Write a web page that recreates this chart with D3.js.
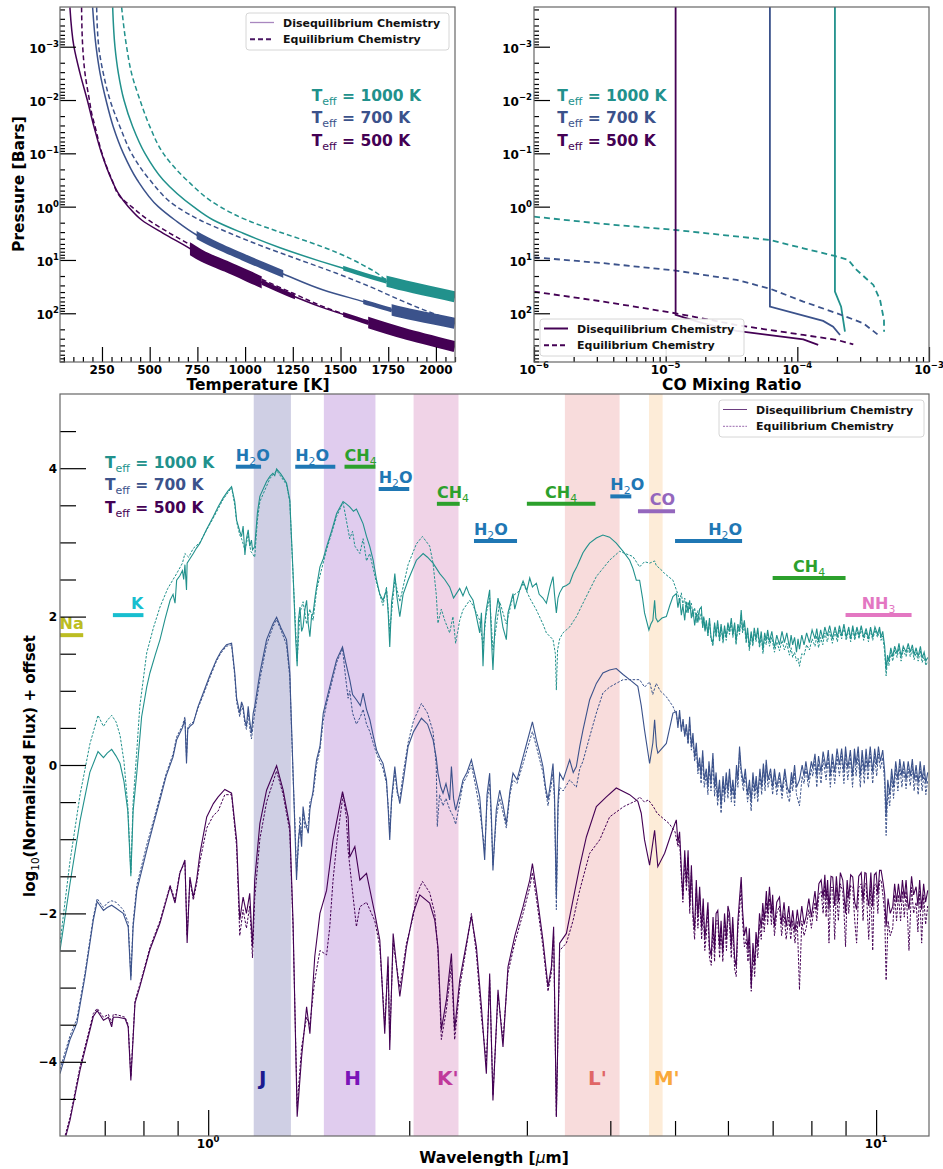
<!DOCTYPE html>
<html>
<head>
<meta charset="utf-8">
<script src="https://cdn.jsdelivr.net/npm/d3@7"></script>
<style>
  body { margin: 0; background: #fff; }
  text { font-family: "DejaVu Sans", sans-serif; font-weight: bold; }
</style>
</head>
<body>
<svg id="fig" width="943" height="1169"></svg>
<script>
// ---------- Pressure–temperature profiles: [T (K), P (bar)] ----------
const ptDiseq1000 = [[306,1.83e-4],[318,1e-3],[336,3.16e-3],[365,1e-2],[411,3.16e-2],[475,0.1],[571,0.316],[729,1],[833,1.78],[990,3.16],[1183,5.9],[1392,10.5],[1514,14.3],[1741,25.1],[2100,49]];
const ptEq1000    = [[353,1.83e-4],[379,1e-3],[405,3.16e-3],[449,1e-2],[501,3.16e-2],[571,0.1],[694,0.316],[868,1],[1008,1.78],[1200,3.16],[1300,4.17],[1410,5.75],[1480,7.24],[1549,9.33],[1620,12.6],[1689,17.4],[1741,23.4],[1800,28.2],[2100,49]];
const ptDiseq700  = [[201,1.83e-4],[219,1e-3],[240,3.16e-3],[271,1e-2],[309,3.16e-2],[362,0.1],[435,0.316],[545,1],[632,1.78],[746,3.40],[860,5.5],[973,8.3],[1090,12.6],[1200,18.3],[1410,36.5],[1619,60.4],[1768,86.6],[2100,154]];
const ptEq700     = [[222,1.83e-4],[233,1e-3],[257,3.16e-3],[292,1e-2],[344,3.16e-2],[405,0.1],[501,0.316],[641,1],[763,1.78],[921,3.16],[1095,5.62],[1287,10],[1479,17.8],[1654,31.6],[1811,56.2],[1950,90],[2100,140]];
const ptDiseq500  = [[82,1.83e-4],[103,1e-3],[135,3.16e-3],[173,1e-2],[208,3.16e-2],[248,0.1],[301,0.316],[336,0.562],[388,1],[458,1.78],[571,3.16],[694,5.62],[781,8.66],[903,13.3],[1060,23.7],[1217,42.2],[1392,75],[1602,133],[1829,237],[2100,422]];
const ptEq500     = [[143,1.83e-4],[149,1e-3],[161,3.16e-3],[184,1e-2],[196,1.78e-2],[214,3.16e-2],[250,0.1],[303,0.316],[345,0.65],[405,1],[493,1.78],[606,3.16],[729,5.62],[816,8.66],[938,13.3],[1095,23.7],[1252,42.2],[1410,75],[1610,133],[1829,237],[2100,422]];

// Temperature ranges of the highlighted (heavier) stretches of each profile: [Tlow, Thigh, level]
const zones1000 = [[1514,1741,1],[1741,2100,3]];
const zones700  = [[746,1200,2],[1619,1768,1],[1768,2100,3]];
const zones500  = [[711,1087,3],[1087,1261,1],[1514,1645,1],[1645,2100,3]];

// ---------- CO mixing ratio profiles: [mixing ratio, P (bar)] ----------
const coDiseq1000 = [[1.93e-4,1.5e-4],[1.93e-4,39.3],[2.15e-4,75],[2.30e-4,221]];
const coEq1000    = [[1e-6,1.54],[3.37e-6,2.11],[1.19e-5,2.74],[6.19e-5,4.22],[1.11e-4,6.04],[1.93e-4,8.41],[2.44e-4,10],[2.82e-4,15.4],[3.78e-4,29.4],[4.25e-4,56.2],[4.55e-4,133],[4.56e-4,221]];
const coDiseq700  = [[6.19e-5,1.5e-4],[6.19e-5,75],[1.57e-4,139],[1.87e-4,178],[2.11e-4,255]];
const coEq700     = [[1e-6,8.91],[3.37e-6,11.5],[1.19e-5,15.8],[3.46e-5,23.7],[6.19e-5,34.5],[1.11e-4,60.4],[2.0e-4,100],[3.17e-4,154],[4.12e-4,255]];
const coDiseq500  = [[1.19e-5,1.5e-4],[1.19e-5,107],[1.93e-5,154],[3.46e-5,214],[6.19e-5,256],[1.11e-4,309],[1.44e-4,392]];
const coEq500     = [[1e-6,39.3],[3.37e-6,60.4],[1.19e-5,100],[3.46e-5,166],[1.11e-4,255],[2.0e-4,316],[2.66e-4,383]];

// ---------- Spectra: [wavelength (µm), log10 normalized flux + offset] ----------
const specDiseq1000 = [[0.600,-2.50],[0.621,-1.60],[0.643,-0.75],[0.665,-0.10],[0.684,0.18],[0.697,0.10],[0.706,0.16],[0.717,0.21],[0.728,0.12],[0.738,0.02],[0.748,-0.22],[0.758,-0.62],[0.766,-1.50],[0.772,-0.62],[0.782,-0.10],[0.795,0.65],[0.809,1.05],[0.818,1.24],[0.833,1.48],[0.847,1.69],[0.862,1.97],[0.877,2.22],[0.886,2.30],[0.892,2.18],[0.897,2.49],[0.907,2.55],[0.915,2.62],[0.919,2.50],[0.923,2.70],[0.928,2.36],[0.930,2.72],[0.939,2.78],[0.950,2.85],[0.960,2.92],[0.972,2.99],[0.995,3.18],[1.018,3.35],[1.035,3.48],[1.053,3.60],[1.070,3.69],[1.084,3.75],[1.096,3.55],[1.103,3.30],[1.115,3.15],[1.122,3.08],[1.128,3.22],[1.135,2.83],[1.141,3.05],[1.148,3.17],[1.154,2.95],[1.161,3.03],[1.165,2.90],[1.174,2.94],[1.185,3.40],[1.195,3.62],[1.223,3.82],[1.237,3.89],[1.250,3.93],[1.258,3.90],[1.266,3.99],[1.285,3.92],[1.300,3.85],[1.310,3.80],[1.325,3.57],[1.340,2.58],[1.352,1.70],[1.359,1.33],[1.365,1.95],[1.372,2.13],[1.380,1.80],[1.387,1.86],[1.396,2.10],[1.404,2.22],[1.412,1.90],[1.420,1.73],[1.428,2.00],[1.436,2.05],[1.445,2.25],[1.453,2.40],[1.470,2.67],[1.487,2.78],[1.504,2.94],[1.530,3.15],[1.557,3.39],[1.592,3.55],[1.610,3.52],[1.629,3.48],[1.650,3.42],[1.667,3.45],[1.687,3.35],[1.706,3.25],[1.726,3.08],[1.745,2.95],[1.766,2.76],[1.787,2.49],[1.807,2.30],[1.827,2.22],[1.849,2.36],[1.860,2.05],[1.870,1.59],[1.882,2.20],[1.892,2.35],[1.903,2.58],[1.918,2.25],[1.936,2.00],[1.958,2.30],[1.992,2.49],[2.050,2.76],[2.098,2.85],[2.130,2.80],[2.171,2.72],[2.222,2.58],[2.260,2.50],[2.299,2.40],[2.330,2.25],[2.353,2.31],[2.380,2.38],[2.407,2.28],[2.436,2.40],[2.460,2.30],[2.492,2.22],[2.521,2.00],[2.550,1.78],[2.565,2.05],[2.579,1.33],[2.594,1.90],[2.609,2.10],[2.639,2.36],[2.655,1.70],[2.669,1.28],[2.690,1.95],[2.716,2.25],[2.732,2.13],[2.763,1.85],[2.795,1.69],[2.811,2.05],[2.860,2.31],[2.877,2.10],[2.927,2.36],[2.961,2.48],[3.000,2.35],[3.030,2.52],[3.058,2.40],[3.100,2.45],[3.130,2.30],[3.171,2.25],[3.209,2.18],[3.250,2.40],[3.283,2.54],[3.300,2.30],[3.321,2.05],[3.340,2.25],[3.359,2.32],[3.397,2.40],[3.437,2.42],[3.477,2.45],[3.520,2.58],[3.559,2.66],[3.599,2.76],[3.640,2.86],[3.683,2.93],[3.725,2.99],[3.812,3.06],[3.899,3.10],[3.990,3.07],[4.083,2.99],[4.180,2.88],[4.276,2.76],[4.324,2.65],[4.375,2.49],[4.425,2.49],[4.470,2.25],[4.501,2.05],[4.569,1.82],[4.600,1.90],[4.632,1.95],[4.660,2.22],[4.680,1.98],[4.712,1.93],[4.780,1.98],[4.852,2.00],[4.910,2.15],[4.964,2.27],[5.022,2.31],[5.05,2.12],[5.079,2.25],[5.11,2.02],[5.137,2.15],[5.17,1.95],[5.198,2.20],[5.23,2.05],[5.258,2.22],[5.29,1.98],[5.318,2.10],[5.35,1.88],[5.380,2.05],[5.41,1.92],[5.442,2.10],[5.474,2.13],[5.50,1.85],[5.52,2.00],[5.545,1.80],[5.569,1.95],[5.60,1.75],[5.63,1.98],[5.66,1.72],[5.697,1.64],[5.73,1.92],[5.76,1.75],[5.79,1.95],[5.829,1.70],[5.86,1.90],[5.90,1.68],[5.93,1.88],[5.965,1.72],[6.00,1.92],[6.033,1.80],[6.07,1.98],[6.103,1.75],[6.14,1.92],[6.17,1.66],[6.21,1.90],[6.245,1.80],[6.281,2.09],[6.31,1.82],[6.35,1.95],[6.39,1.68],[6.42,1.85],[6.46,1.58],[6.50,1.80],[6.538,1.64],[6.57,1.85],[6.61,1.70],[6.65,1.85],[6.69,1.62],[6.73,1.80],[6.77,1.55],[6.81,1.78],[6.846,1.68],[6.88,1.82],[6.924,1.66],[6.98,1.80],[7.044,1.58],[7.10,1.75],[7.167,1.62],[7.23,1.80],[7.29,1.65],[7.35,1.78],[7.417,1.58],[7.46,1.75],[7.50,1.62],[7.55,1.72],[7.60,1.52],[7.64,1.70],[7.678,1.56],[7.74,1.75],[7.80,1.62],[7.87,1.78],[7.946,1.65],[8.02,1.82],[8.10,1.70],[8.15,1.84],[8.20,1.66],[8.26,1.82],[8.32,1.70],[8.38,1.86],[8.45,1.74],[8.52,1.88],[8.60,1.70],[8.68,1.86],[8.75,1.72],[8.812,1.88],[8.88,1.74],[8.95,1.90],[9.02,1.72],[9.10,1.86],[9.16,1.70],[9.226,1.88],[9.29,1.72],[9.36,1.86],[9.43,1.74],[9.50,1.88],[9.58,1.72],[9.661,1.84],[9.74,1.70],[9.81,1.86],[9.883,1.72],[9.96,1.86],[10.05,1.76],[10.12,1.86],[10.17,1.72],[10.231,1.80],[10.30,1.60],[10.351,1.28],[10.40,1.48],[10.45,1.40],[10.52,1.58],[10.589,1.46],[10.66,1.60],[10.75,1.50],[10.82,1.64],[10.90,1.46],[10.98,1.60],[11.088,1.52],[11.17,1.64],[11.25,1.52],[11.33,1.62],[11.40,1.48],[11.478,1.58],[11.56,1.46],[11.65,1.60],[11.72,1.44],[11.80,1.52],[11.87,1.40],[11.947,1.45]];

const specEq1000 = [[0.600,-2.40],[0.621,-1.30],[0.643,-0.40],[0.665,0.28],[0.684,0.67],[0.697,0.52],[0.706,0.60],[0.717,0.67],[0.728,0.58],[0.738,0.40],[0.748,0.05],[0.758,-0.55],[0.766,-1.45],[0.772,-0.50],[0.782,0.20],[0.790,0.79],[0.809,1.51],[0.828,1.85],[0.847,2.13],[0.870,2.38],[0.897,2.58],[0.915,2.72],[0.923,2.85],[0.935,2.80],[0.950,2.92],[0.972,3.00],[0.995,3.17],[1.018,3.33],[1.053,3.58],[1.084,3.74],[1.096,3.50],[1.103,3.28],[1.115,3.10],[1.122,3.05],[1.135,2.90],[1.148,3.10],[1.158,2.88],[1.165,2.85],[1.174,2.80],[1.185,3.30],[1.195,3.55],[1.237,3.86],[1.266,3.97],[1.310,3.78],[1.325,3.55],[1.340,2.55],[1.359,1.40],[1.372,2.05],[1.387,2.20],[1.404,1.90],[1.420,2.10],[1.436,1.95],[1.453,2.35],[1.470,2.55],[1.504,2.90],[1.557,3.35],[1.592,3.54],[1.610,3.30],[1.629,3.05],[1.645,3.15],[1.658,2.95],[1.687,2.85],[1.706,3.05],[1.726,2.75],[1.745,2.85],[1.766,2.65],[1.787,2.45],[1.827,2.15],[1.849,2.40],[1.870,1.80],[1.903,2.50],[1.936,2.20],[1.992,2.70],[2.050,2.98],[2.093,3.08],[2.146,2.95],[2.171,2.72],[2.195,2.30],[2.208,1.91],[2.234,2.10],[2.260,1.95],[2.299,1.78],[2.325,2.00],[2.347,1.64],[2.380,1.95],[2.407,2.09],[2.463,2.22],[2.492,2.15],[2.550,1.95],[2.579,1.60],[2.609,2.05],[2.639,2.25],[2.669,1.55],[2.732,2.20],[2.795,1.90],[2.860,2.28],[2.927,2.35],[2.961,2.45],[3.030,2.25],[3.100,2.09],[3.171,1.90],[3.209,1.78],[3.283,1.69],[3.310,1.50],[3.321,1.01],[3.335,1.55],[3.359,1.70],[3.397,1.78],[3.477,1.86],[3.559,2.00],[3.640,2.18],[3.725,2.36],[3.812,2.54],[3.900,2.65],[3.990,2.76],[4.130,2.88],[4.324,2.81],[4.425,2.67],[4.501,2.74],[4.580,2.72],[4.660,2.75],[4.686,2.69],[4.780,2.62],[4.824,2.58],[4.964,2.49],[5.05,2.30],[5.079,2.20],[5.11,2.32],[5.137,2.15],[5.17,2.25],[5.20,2.05],[5.23,2.20],[5.258,2.10],[5.29,2.18],[5.318,2.00],[5.35,2.12],[5.38,1.92],[5.41,2.08],[5.442,1.95],[5.474,2.05],[5.50,1.85],[5.52,1.98],[5.545,1.82],[5.569,1.92],[5.60,1.74],[5.63,1.95],[5.66,1.70],[5.697,1.60],[5.73,1.88],[5.76,1.72],[5.79,1.90],[5.829,1.66],[5.86,1.86],[5.90,1.64],[5.93,1.84],[5.965,1.68],[6.00,1.88],[6.033,1.76],[6.07,1.92],[6.103,1.72],[6.14,1.88],[6.17,1.62],[6.21,1.86],[6.245,1.76],[6.281,2.02],[6.31,1.78],[6.35,1.90],[6.39,1.64],[6.42,1.80],[6.46,1.54],[6.50,1.76],[6.538,1.60],[6.57,1.80],[6.61,1.66],[6.65,1.80],[6.69,1.58],[6.73,1.75],[6.77,1.50],[6.81,1.72],[6.846,1.62],[6.88,1.76],[6.924,1.60],[6.98,1.72],[7.044,1.52],[7.10,1.66],[7.167,1.54],[7.23,1.68],[7.29,1.55],[7.35,1.64],[7.417,1.48],[7.46,1.58],[7.50,1.45],[7.55,1.52],[7.60,1.40],[7.64,1.44],[7.678,1.33],[7.74,1.50],[7.80,1.48],[7.87,1.62],[7.946,1.55],[8.02,1.70],[8.10,1.60],[8.15,1.74],[8.20,1.58],[8.26,1.72],[8.32,1.62],[8.38,1.78],[8.45,1.66],[8.52,1.80],[8.60,1.64],[8.68,1.80],[8.75,1.66],[8.812,1.82],[8.88,1.70],[8.95,1.86],[9.02,1.68],[9.10,1.82],[9.16,1.66],[9.226,1.84],[9.29,1.68],[9.36,1.82],[9.43,1.70],[9.50,1.84],[9.58,1.68],[9.661,1.80],[9.74,1.66],[9.81,1.82],[9.883,1.68],[9.96,1.82],[10.05,1.72],[10.12,1.82],[10.17,1.68],[10.231,1.74],[10.30,1.52],[10.351,1.20],[10.40,1.42],[10.45,1.34],[10.52,1.52],[10.589,1.40],[10.66,1.55],[10.75,1.45],[10.82,1.58],[10.90,1.40],[10.98,1.55],[11.088,1.46],[11.17,1.58],[11.25,1.46],[11.33,1.56],[11.40,1.42],[11.478,1.52],[11.56,1.40],[11.65,1.54],[11.72,1.38],[11.80,1.46],[11.87,1.34],[11.947,1.40]];

const specDiseq700 = [[0.600,-4.16],[0.621,-3.70],[0.636,-3.48],[0.654,-2.85],[0.673,-2.09],[0.682,-1.84],[0.697,-1.96],[0.706,-1.92],[0.717,-1.89],[0.728,-1.93],[0.746,-2.00],[0.759,-2.18],[0.766,-2.90],[0.772,-2.18],[0.782,-1.69],[0.809,-1.15],[0.828,-0.80],[0.847,-0.47],[0.865,-0.15],[0.886,0.11],[0.897,0.34],[0.915,0.50],[0.923,0.61],[0.928,0.02],[0.932,0.48],[0.939,0.52],[0.950,0.56],[0.965,0.78],[0.983,0.97],[1.005,1.20],[1.029,1.42],[1.045,1.53],[1.065,1.62],[1.084,1.64],[1.096,1.24],[1.103,0.90],[1.115,0.70],[1.122,0.85],[1.128,0.79],[1.135,0.60],[1.141,0.52],[1.148,0.79],[1.154,0.60],[1.161,0.43],[1.168,0.70],[1.174,0.79],[1.195,1.24],[1.223,1.69],[1.250,1.90],[1.266,1.99],[1.285,1.85],[1.310,1.69],[1.325,1.24],[1.340,-0.11],[1.350,-1.00],[1.356,-1.55],[1.365,-1.00],[1.372,-0.83],[1.380,-1.10],[1.387,-0.56],[1.396,-0.75],[1.412,-0.92],[1.420,-0.60],[1.436,-0.34],[1.445,-0.10],[1.453,0.07],[1.470,0.25],[1.487,0.70],[1.504,0.88],[1.530,1.15],[1.557,1.42],[1.589,1.59],[1.605,1.40],[1.629,1.15],[1.645,0.95],[1.667,0.88],[1.690,0.80],[1.706,0.97],[1.726,0.75],[1.746,0.61],[1.766,0.40],[1.787,0.20],[1.807,0.10],[1.827,0.02],[1.849,-0.20],[1.860,-0.60],[1.870,-1.01],[1.882,-0.45],[1.903,-0.02],[1.920,-0.35],[1.936,-0.52],[1.960,-0.20],[1.992,0.25],[2.030,0.45],[2.086,0.63],[2.130,0.55],[2.171,0.34],[2.195,0.10],[2.208,-0.11],[2.230,-0.30],[2.247,-0.38],[2.270,-0.25],[2.299,-0.47],[2.313,-0.02],[2.330,-0.45],[2.347,-0.61],[2.380,-0.40],[2.407,-0.20],[2.440,-0.10],[2.478,0.07],[2.510,-0.15],[2.550,-0.43],[2.594,-1.28],[2.615,-0.40],[2.639,-0.11],[2.655,-0.70],[2.669,-1.42],[2.700,-0.60],[2.732,-0.34],[2.765,-0.55],[2.795,-0.79],[2.830,-0.35],[2.860,-0.11],[2.900,-0.20],[2.961,0.11],[3.000,0.30],[3.058,0.58],[3.100,0.34],[3.140,0.15],[3.171,-0.02],[3.200,-0.30],[3.227,-0.47],[3.260,-0.20],[3.283,0.02],[3.300,-0.40],[3.321,-1.78],[3.340,-0.50],[3.359,-0.11],[3.400,-0.20],[3.477,0.07],[3.520,-0.10],[3.558,-0.02],[3.600,0.25],[3.640,0.47],[3.725,0.88],[3.812,1.10],[3.899,1.24],[3.990,1.28],[4.083,1.30],[4.180,1.22],[4.276,1.15],[4.398,1.06],[4.450,0.80],[4.501,0.47],[4.580,0.02],[4.632,0.30],[4.660,0.61],[4.690,0.25],[4.712,0.16],[4.852,0.29],[4.964,0.70],[5.022,0.72],[5.05,0.50],[5.079,0.74],[5.11,0.45],[5.14,0.62],[5.17,0.38],[5.198,0.55],[5.23,0.30],[5.258,0.65],[5.29,0.25],[5.318,0.43],[5.35,0.10],[5.38,0.30],[5.41,-0.05],[5.442,0.10],[5.47,-0.15],[5.50,0.20],[5.53,-0.20],[5.569,-0.05],[5.60,-0.30],[5.62,0.05],[5.66,-0.25],[5.697,0.16],[5.73,-0.30],[5.76,-0.10],[5.79,-0.45],[5.829,-0.20],[5.86,-0.55],[5.90,-0.15],[5.93,-0.40],[5.965,-0.10],[6.00,-0.35],[6.033,-0.05],[6.07,-0.40],[6.103,-0.20],[6.14,-0.45],[6.18,0.00],[6.21,-0.20],[6.245,0.25],[6.28,-0.05],[6.33,-0.25],[6.37,-0.05],[6.42,-0.40],[6.463,-0.20],[6.50,-0.50],[6.54,-0.10],[6.58,-0.35],[6.614,-0.15],[6.65,-0.40],[6.70,-0.05],[6.74,-0.30],[6.78,0.02],[6.82,-0.25],[6.846,0.07],[6.89,-0.20],[6.95,-0.05],[7.00,-0.30],[7.044,-0.05],[7.10,-0.30],[7.167,-0.10],[7.23,-0.35],[7.30,-0.05],[7.36,-0.30],[7.417,-0.38],[7.47,-0.10],[7.50,-0.25],[7.55,0.00],[7.60,-0.30],[7.678,-0.20],[7.75,0.00],[7.80,-0.15],[7.85,0.05],[7.92,-0.20],[8.00,0.05],[8.038,-0.05],[8.10,0.15],[8.15,-0.15],[8.20,0.12],[8.27,-0.10],[8.33,0.18],[8.416,-0.05],[8.48,0.20],[8.54,-0.15],[8.60,0.15],[8.67,-0.10],[8.74,0.22],[8.812,0.00],[8.88,0.22],[8.95,-0.10],[9.00,0.25],[9.07,-0.05],[9.15,0.20],[9.22,-0.15],[9.28,0.22],[9.333,0.00],[9.40,0.25],[9.47,-0.15],[9.53,0.20],[9.60,-0.10],[9.66,0.22],[9.72,-0.05],[9.80,0.25],[9.883,-0.10],[9.95,0.22],[10.02,0.00],[10.08,0.25],[10.15,0.05],[10.231,0.20],[10.30,-0.10],[10.351,-0.70],[10.41,-0.20],[10.48,-0.40],[10.55,-0.05],[10.62,-0.30],[10.70,0.05],[10.78,-0.20],[10.85,0.08],[10.93,-0.15],[11.00,0.05],[11.088,-0.20],[11.17,0.05],[11.25,-0.15],[11.33,0.08],[11.40,-0.20],[11.478,0.00],[11.56,-0.25],[11.64,0.05],[11.72,-0.20],[11.80,0.00],[11.87,-0.25],[11.947,-0.10]];

const specEq700 = [[0.600,-4.10],[0.621,-3.65],[0.636,-3.42],[0.654,-2.80],[0.673,-2.05],[0.682,-1.80],[0.697,-1.92],[0.706,-1.86],[0.717,-1.83],[0.728,-1.85],[0.746,-1.95],[0.759,-2.12],[0.766,-2.85],[0.772,-2.12],[0.782,-1.62],[0.809,-1.08],[0.828,-0.75],[0.847,-0.42],[0.865,-0.12],[0.886,0.15],[0.897,0.38],[0.915,0.53],[0.923,0.65],[0.928,0.10],[0.932,0.50],[0.939,0.55],[0.950,0.58],[0.965,0.76],[0.983,0.94],[1.005,1.17],[1.029,1.40],[1.045,1.51],[1.065,1.60],[1.084,1.62],[1.096,1.20],[1.103,0.85],[1.115,0.65],[1.122,0.80],[1.128,0.74],[1.135,0.55],[1.141,0.48],[1.148,0.70],[1.154,0.50],[1.161,0.35],[1.168,0.55],[1.174,0.70],[1.195,1.15],[1.223,1.62],[1.250,1.86],[1.266,1.96],[1.285,1.82],[1.310,1.62],[1.325,1.18],[1.340,-0.15],[1.350,-0.90],[1.356,-1.45],[1.365,-1.10],[1.372,-0.70],[1.380,-0.95],[1.387,-0.65],[1.396,-0.85],[1.412,-0.80],[1.420,-0.50],[1.436,-0.40],[1.445,-0.20],[1.453,0.00],[1.470,0.20],[1.487,0.60],[1.504,0.82],[1.530,1.10],[1.557,1.38],[1.589,1.57],[1.605,1.20],[1.620,0.90],[1.629,1.00],[1.645,0.70],[1.667,0.55],[1.690,0.65],[1.706,0.75],[1.726,0.55],[1.746,0.45],[1.766,0.30],[1.787,0.15],[1.807,0.05],[1.827,-0.05],[1.849,-0.25],[1.860,-0.55],[1.870,-0.90],[1.882,-0.50],[1.903,-0.10],[1.920,-0.40],[1.936,-0.45],[1.960,-0.10],[1.992,0.30],[2.030,0.60],[2.086,0.83],[2.130,0.70],[2.171,0.45],[2.195,0.00],[2.203,-0.83],[2.220,-0.40],[2.247,-0.55],[2.270,-0.45],[2.299,-0.60],[2.330,-0.70],[2.347,-0.80],[2.380,-0.50],[2.407,-0.25],[2.440,-0.15],[2.478,0.00],[2.510,-0.25],[2.550,-0.60],[2.594,-1.15],[2.615,-0.50],[2.639,-0.25],[2.655,-0.80],[2.669,-1.35],[2.700,-0.70],[2.732,-0.45],[2.765,-0.65],[2.795,-0.85],[2.830,-0.40],[2.860,-0.20],[2.900,-0.25],[2.961,0.02],[3.000,0.20],[3.058,0.45],[3.100,0.25],[3.140,0.05],[3.171,-0.10],[3.200,-0.35],[3.227,-0.55],[3.260,-0.30],[3.283,-0.10],[3.300,-0.50],[3.321,-1.95],[3.340,-0.60],[3.359,-0.30],[3.400,-0.35],[3.477,-0.20],[3.558,-0.30],[3.600,-0.05],[3.640,0.05],[3.725,0.38],[3.812,0.70],[3.899,0.97],[3.990,1.05],[4.083,1.10],[4.180,1.15],[4.276,1.15],[4.425,1.15],[4.501,1.05],[4.580,1.12],[4.630,0.95],[4.686,1.10],[4.750,1.00],[4.852,0.92],[4.964,0.79],[5.022,0.68],[5.05,0.55],[5.079,0.66],[5.11,0.50],[5.14,0.58],[5.17,0.40],[5.198,0.50],[5.23,0.28],[5.258,0.55],[5.29,0.20],[5.318,0.35],[5.35,0.05],[5.38,0.22],[5.41,-0.12],[5.442,0.02],[5.47,-0.25],[5.50,0.12],[5.53,-0.30],[5.569,-0.12],[5.60,-0.40],[5.62,-0.02],[5.66,-0.35],[5.697,0.08],[5.73,-0.42],[5.76,-0.18],[5.79,-0.55],[5.829,-0.28],[5.86,-0.65],[5.90,-0.22],[5.93,-0.50],[5.965,-0.18],[6.00,-0.45],[6.033,-0.12],[6.07,-0.50],[6.103,-0.28],[6.14,-0.55],[6.18,-0.08],[6.21,-0.30],[6.245,0.18],[6.28,-0.12],[6.33,-0.35],[6.37,-0.12],[6.42,-0.50],[6.463,-0.30],[6.50,-0.62],[6.54,-0.18],[6.58,-0.45],[6.614,-0.22],[6.65,-0.50],[6.70,-0.12],[6.74,-0.40],[6.78,-0.05],[6.82,-0.35],[6.846,0.00],[6.89,-0.30],[6.95,-0.12],[7.00,-0.40],[7.044,-0.12],[7.10,-0.40],[7.167,-0.18],[7.23,-0.45],[7.30,-0.12],[7.36,-0.40],[7.417,-0.50],[7.47,-0.20],[7.50,-0.35],[7.55,-0.10],[7.60,-0.40],[7.678,-0.55],[7.75,-0.15],[7.80,-0.25],[7.85,-0.05],[7.92,-0.30],[8.00,-0.05],[8.038,-0.15],[8.10,0.05],[8.15,-0.30],[8.20,0.02],[8.27,-0.25],[8.33,0.08],[8.416,-0.20],[8.48,0.10],[8.54,-0.30],[8.60,0.05],[8.67,-0.25],[8.74,0.12],[8.812,-0.15],[8.88,0.12],[8.95,-0.25],[9.00,0.15],[9.07,-0.20],[9.15,0.10],[9.22,-0.30],[9.28,0.12],[9.333,-0.15],[9.40,0.15],[9.47,-0.30],[9.53,0.10],[9.60,-0.25],[9.66,0.12],[9.72,-0.20],[9.80,0.15],[9.883,-0.25],[9.95,0.12],[10.02,-0.15],[10.08,0.15],[10.15,-0.05],[10.231,0.10],[10.30,-0.25],[10.351,-0.95],[10.41,-0.35],[10.48,-0.55],[10.55,-0.15],[10.62,-0.45],[10.70,-0.05],[10.78,-0.35],[10.85,-0.02],[10.93,-0.30],[11.00,-0.05],[11.088,-0.32],[11.17,-0.05],[11.25,-0.28],[11.33,-0.02],[11.40,-0.35],[11.478,-0.10],[11.56,-0.40],[11.64,-0.05],[11.72,-0.35],[11.80,-0.10],[11.87,-0.40],[11.947,-0.20]];

const specDiseq500 = [[0.600,-5.30],[0.621,-4.79],[0.643,-4.11],[0.673,-3.39],[0.682,-3.31],[0.697,-3.44],[0.709,-3.40],[0.717,-3.53],[0.721,-3.40],[0.733,-3.40],[0.751,-3.42],[0.759,-3.53],[0.766,-4.25],[0.777,-3.21],[0.790,-2.99],[0.818,-2.49],[0.847,-2.13],[0.877,-1.64],[0.892,-1.86],[0.907,-1.46],[0.923,-1.28],[0.930,-2.40],[0.939,-1.51],[0.950,-1.78],[0.961,-1.55],[0.972,-1.19],[0.995,-0.70],[1.018,-0.52],[1.035,-0.43],[1.059,-0.33],[1.084,-0.38],[1.103,-1.01],[1.115,-2.09],[1.128,-1.78],[1.141,-2.00],[1.154,-1.73],[1.165,-2.45],[1.174,-1.55],[1.195,-0.79],[1.223,-0.34],[1.266,-0.01],[1.295,-0.34],[1.325,-0.83],[1.340,-2.13],[1.359,-4.74],[1.380,-3.93],[1.404,-3.26],[1.420,-3.62],[1.444,-2.58],[1.470,-2.00],[1.504,-1.69],[1.538,-1.01],[1.589,-0.36],[1.620,-0.70],[1.629,-1.24],[1.658,-1.10],[1.687,-1.55],[1.726,-1.46],[1.776,-2.00],[1.807,-2.36],[1.838,-3.62],[1.859,-2.58],[1.870,-3.84],[1.892,-2.27],[1.936,-3.12],[1.981,-2.45],[2.027,-2.00],[2.074,-1.75],[2.146,-1.86],[2.184,-2.09],[2.208,-2.45],[2.234,-3.57],[2.273,-3.17],[2.313,-2.54],[2.339,-3.57],[2.380,-2.90],[2.436,-2.40],[2.478,-2.04],[2.521,-2.45],[2.565,-3.26],[2.609,-4.16],[2.639,-2.81],[2.669,-4.52],[2.716,-3.03],[2.763,-3.80],[2.811,-2.72],[2.877,-2.31],[2.961,-1.91],[3.030,-1.55],[3.058,-1.33],[3.100,-1.69],[3.171,-2.36],[3.227,-2.99],[3.265,-2.72],[3.290,-2.18],[3.321,-4.74],[3.359,-2.40],[3.438,-2.27],[3.517,-1.82],[3.599,-1.37],[3.683,-0.97],[3.812,-0.56],[3.946,-0.43],[4.083,-0.31],[4.276,-0.40],[4.398,-0.49],[4.450,-0.65],[4.501,-1.01],[4.580,-1.35],[4.660,-0.88],[4.712,-1.37],[4.824,-1.19],[4.937,-0.92],[5.022,-0.74],[5.05,-1.05],[5.079,-0.90],[5.11,-1.40],[5.137,-1.78],[5.17,-1.15],[5.20,-1.60],[5.23,-1.15],[5.26,-1.90],[5.29,-1.35],[5.32,-2.00],[5.349,-2.22],[5.38,-1.55],[5.41,-2.05],[5.443,-1.64],[5.48,-2.20],[5.51,-1.80],[5.54,-2.35],[5.569,-2.13],[5.60,-1.85],[5.63,-2.45],[5.665,-2.58],[5.70,-2.05],[5.73,-2.50],[5.76,-2.00],[5.794,-1.96],[5.83,-2.45],[5.86,-2.10],[5.895,-2.54],[5.93,-2.00],[5.97,-2.35],[6.00,-1.90],[6.033,-2.00],[6.07,-2.45],[6.10,-2.05],[6.14,-2.60],[6.173,-2.72],[6.21,-2.10],[6.245,-1.80],[6.281,-1.51],[6.31,-1.95],[6.35,-2.30],[6.39,-2.18],[6.43,-2.50],[6.46,-2.20],[6.502,-2.99],[6.54,-2.40],[6.58,-2.70],[6.61,-2.25],[6.65,-2.45],[6.69,-2.00],[6.73,-2.20],[6.766,-1.86],[6.80,-2.10],[6.85,-1.70],[6.88,-2.00],[6.924,-1.64],[6.97,-2.00],[7.00,-1.75],[7.044,-2.18],[7.10,-1.85],[7.167,-1.78],[7.22,-2.15],[7.28,-1.85],[7.334,-2.18],[7.40,-1.90],[7.45,-2.20],[7.501,-1.96],[7.56,-2.25],[7.62,-1.95],[7.678,-2.18],[7.74,-1.90],[7.80,-2.15],[7.857,-2.04],[7.93,-1.80],[8.00,-2.05],[8.038,-1.91],[8.10,-1.70],[8.150,-1.95],[8.21,-1.60],[8.274,-1.55],[8.33,-1.80],[8.38,-1.48],[8.416,-1.82],[8.46,-1.55],[8.500,-1.95],[8.56,-1.50],[8.610,-1.51],[8.67,-1.90],[8.72,-1.50],[8.78,-1.85],[8.84,-1.45],[8.913,-1.55],[8.96,-1.80],[9.000,-2.00],[9.05,-1.55],[9.10,-1.80],[9.16,-1.48],[9.226,-1.51],[9.29,-1.85],[9.350,-1.95],[9.42,-1.50],[9.500,-1.45],[9.56,-1.85],[9.62,-1.45],[9.661,-1.46],[9.71,-1.80],[9.750,-1.90],[9.82,-1.45],[9.883,-1.91],[9.94,-1.48],[10.000,-1.45],[10.06,-1.75],[10.12,-1.42],[10.174,-1.42],[10.25,-1.60],[10.30,-1.75],[10.351,-2.18],[10.42,-1.80],[10.50,-2.00],[10.589,-1.91],[10.66,-1.60],[10.73,-1.85],[10.800,-1.60],[10.88,-1.85],[10.95,-1.55],[11.02,-1.80],[11.088,-1.55],[11.15,-1.85],[11.200,-1.95],[11.30,-1.50],[11.38,-1.75],[11.478,-1.64],[11.55,-1.90],[11.62,-1.55],[11.700,-1.95],[11.78,-1.60],[11.86,-1.85],[11.947,-1.69]];

const specEq500 = [[0.600,-5.25],[0.621,-4.75],[0.643,-4.06],[0.673,-3.35],[0.682,-3.28],[0.697,-3.40],[0.709,-3.36],[0.717,-3.48],[0.721,-3.36],[0.733,-3.37],[0.751,-3.40],[0.759,-3.50],[0.766,-4.20],[0.777,-3.18],[0.790,-2.96],[0.818,-2.46],[0.847,-2.10],[0.877,-1.62],[0.892,-1.82],[0.907,-1.44],[0.923,-1.32],[0.930,-2.30],[0.939,-1.55],[0.950,-1.82],[0.961,-1.60],[0.972,-1.30],[0.995,-0.85],[1.018,-0.68],[1.035,-0.62],[1.059,-0.40],[1.084,-0.40],[1.103,-1.10],[1.115,-2.30],[1.128,-1.95],[1.141,-2.20],[1.154,-1.90],[1.165,-2.60],[1.174,-1.80],[1.195,-1.00],[1.223,-0.50],[1.266,-0.08],[1.295,-0.40],[1.325,-0.90],[1.340,-2.20],[1.359,-4.60],[1.380,-3.80],[1.404,-3.40],[1.420,-3.50],[1.444,-2.90],[1.470,-2.50],[1.504,-2.56],[1.520,-2.20],[1.538,-1.55],[1.560,-1.00],[1.592,-0.40],[1.610,-0.70],[1.620,-1.15],[1.640,-1.60],[1.667,-2.18],[1.687,-1.91],[1.726,-1.85],[1.776,-2.10],[1.807,-2.45],[1.838,-3.50],[1.859,-2.70],[1.870,-3.70],[1.892,-2.40],[1.936,-3.00],[1.981,-2.40],[2.027,-2.05],[2.050,-1.75],[2.093,-1.57],[2.146,-1.72],[2.184,-2.00],[2.208,-2.50],[2.234,-3.70],[2.273,-3.30],[2.313,-2.70],[2.339,-3.70],[2.380,-3.00],[2.436,-2.45],[2.478,-2.00],[2.521,-2.55],[2.565,-3.40],[2.609,-4.00],[2.639,-2.90],[2.669,-4.45],[2.716,-3.10],[2.763,-3.70],[2.811,-2.80],[2.877,-2.40],[2.961,-2.00],[3.030,-1.65],[3.058,-1.45],[3.100,-1.80],[3.171,-2.45],[3.227,-3.05],[3.265,-2.80],[3.290,-2.30],[3.321,-4.74],[3.359,-2.50],[3.438,-2.40],[3.517,-2.10],[3.599,-1.69],[3.725,-1.19],[3.856,-1.01],[3.990,-0.70],[4.190,-0.56],[4.375,-0.48],[4.425,-0.43],[4.500,-0.50],[4.560,-0.47],[4.640,-0.56],[4.700,-0.65],[4.900,-0.79],[5.00,-0.90],[5.05,-1.10],[5.079,-1.01],[5.11,-1.50],[5.137,-1.85],[5.17,-1.25],[5.20,-1.70],[5.23,-1.25],[5.26,-2.00],[5.29,-1.45],[5.32,-2.10],[5.349,-2.35],[5.38,-1.65],[5.41,-2.20],[5.443,-1.75],[5.48,-2.35],[5.51,-1.90],[5.54,-2.50],[5.569,-2.30],[5.60,-1.95],[5.63,-2.60],[5.665,-2.70],[5.70,-2.15],[5.73,-2.65],[5.76,-2.10],[5.794,-2.10],[5.83,-2.60],[5.86,-2.20],[5.895,-2.65],[5.93,-2.10],[5.97,-2.50],[6.00,-2.00],[6.033,-2.15],[6.07,-2.60],[6.10,-2.15],[6.14,-2.75],[6.173,-2.85],[6.21,-2.20],[6.245,-1.95],[6.281,-1.65],[6.31,-2.10],[6.35,-2.45],[6.39,-2.35],[6.43,-2.65],[6.46,-2.35],[6.502,-3.05],[6.54,-2.55],[6.58,-2.85],[6.61,-2.35],[6.65,-2.60],[6.69,-2.15],[6.73,-2.35],[6.766,-2.00],[6.80,-2.25],[6.85,-1.85],[6.88,-2.15],[6.924,-1.80],[6.97,-2.15],[7.00,-1.90],[7.044,-2.30],[7.10,-2.00],[7.167,-1.90],[7.22,-2.30],[7.28,-2.00],[7.334,-2.35],[7.40,-2.05],[7.45,-2.35],[7.501,-2.10],[7.56,-2.40],[7.62,-2.10],[7.678,-3.03],[7.74,-2.10],[7.80,-2.30],[7.857,-2.20],[7.93,-1.95],[8.00,-2.20],[8.038,-2.05],[8.10,-1.85],[8.150,-2.10],[8.21,-1.75],[8.274,-1.70],[8.33,-2.00],[8.38,-1.62],[8.416,-2.05],[8.46,-1.70],[8.500,-2.40],[8.56,-1.65],[8.610,-1.65],[8.67,-2.35],[8.72,-1.65],[8.78,-2.10],[8.84,-1.60],[8.913,-1.70],[8.96,-2.05],[9.000,-2.45],[9.05,-1.70],[9.10,-2.00],[9.16,-1.62],[9.226,-1.65],[9.29,-2.10],[9.350,-2.40],[9.42,-1.65],[9.500,-1.60],[9.56,-2.10],[9.62,-1.60],[9.661,-1.60],[9.71,-2.05],[9.750,-2.35],[9.82,-1.60],[9.883,-2.50],[9.94,-1.62],[10.000,-1.60],[10.06,-2.00],[10.12,-1.56],[10.174,-1.55],[10.25,-1.80],[10.30,-2.00],[10.351,-2.90],[10.42,-2.10],[10.50,-2.30],[10.589,-2.20],[10.66,-1.75],[10.73,-2.10],[10.800,-1.75],[10.88,-2.10],[10.95,-1.70],[11.02,-2.05],[11.088,-1.70],[11.15,-2.10],[11.200,-2.50],[11.30,-1.65],[11.38,-2.00],[11.478,-1.85],[11.55,-2.25],[11.62,-1.70],[11.700,-2.40],[11.78,-1.75],[11.86,-2.15],[11.947,-1.90]];

// ---------- Photometric bands ----------
const bandNames = ['J', 'H', "K'", "L'", "M'"];
const bandRanges = [[1.17,1.33],[1.49,1.78],[2.03,2.37],[3.42,4.13],[4.57,4.79]];
const bandLabelAt = [1.207, 1.646, 2.284, 3.825, 4.858];
const bandLabelLevel = -4.3;

// ---------- Molecular absorption features ----------
const molNames  = ['Na','K','H2O','H2O','CH4','H2O','CH4','H2O','CH4','H2O','CO','H2O','CH4','NH3'];
const molRanges = [[0.60,0.65],[0.72,0.80],[1.10,1.20],[1.35,1.55],[1.60,1.78],[1.80,2.00],[2.20,2.38],[2.50,2.90],[3.00,3.80],[4.00,4.30],[4.40,5.00],[5.00,6.30],[7.00,9.00],[9.00,11.3]];
const molLevels = [1.75,2.02,4.02,4.02,4.02,3.72,3.52,3.02,3.52,3.62,3.42,3.02,2.52,2.02];

// ---------- Tick labels ----------
const tempTicks = [250,500,750,1000,1250,1500,1750,2000];
const presTickExps = [-3,-2,-1,0,1,2];
const coTickExps = [-6,-5,-4,-3];
const fluxTicks = [-4,-2,0,2,4];
const waveTickExps = [0,1];

const teffLabels = ['1000', '700', '500'];

// ======================================================================
const svg = d3.select('#fig');
const C = { 1000: '#21918c', 700: '#3b528b', 500: '#440154' };
const molColor = { Na: '#bcbd22', K: '#17becf', H2O: '#1f77b4', CH4: '#2ca02c', CO: '#9467bd', NH3: '#e377c2' };
const molAnchor = ['middle','end','start','start','start','start','start','start','middle','start','end','end','middle','middle'];
const bandFill = ['#cfcfe4','#e0ccee','#f0d3e7','#f8dcdc','#fdecd8'];
const bandText = ['#1b1b8f','#7a14b8','#c0399b','#e06666','#f9a93b'];

const xT  = d3.scaleLinear().domain([30, 2100]).range([60, 455]);
const yP  = d3.scaleLog().domain([1.8e-4, 820]).range([7, 362]);
const xCO = d3.scaleLog().domain([1e-6, 1e-3]).range([534, 929]);
const xW  = d3.scaleLog().domain([0.6, 12]).range([60, 929]);
const yF  = d3.scaleLinear().domain([-5, 5]).range([1136, 394]);

const defs = svg.append('defs');
function clip(id, x, y, w, h) {
  defs.append('clipPath').attr('id', id).append('rect').attr('x', x).attr('y', y).attr('width', w).attr('height', h);
  return `url(#${id})`;
}
const clipTL = clip('cTL', 60, 7, 395, 355);
const clipTR = clip('cTR', 534, 7, 395, 355);
const clipB  = clip('cB', 60, 394, 869, 742);

// superscript "10^e" label
function powLabel(g, x, y, e, anchor) {
  const t = g.append('text').attr('x', x).attr('y', y).attr('text-anchor', anchor).attr('font-size', 12).attr('fill', '#000');
  t.append('tspan').text('10');
  t.append('tspan').attr('dy', -6).attr('font-size', 8.5).text(String(e).replace('-', '\u2212'));
}
function logMinors(domain) {
  const out = [];
  const lo = Math.floor(Math.log10(domain[0])), hi = Math.ceil(Math.log10(domain[1]));
  for (let k = lo; k <= hi; k++) for (let m = 2; m <= 9; m++) {
    const v = m * Math.pow(10, k);
    if (v >= domain[0] && v <= domain[1]) out.push(v);
  }
  return out;
}
function tickAxis(axis, tx, ty) {
  const a = svg.append('g').attr('transform', `translate(${tx},${ty})`).call(axis);
  a.select('.domain').remove();
  a.selectAll('text').remove();
  a.selectAll('line').attr('stroke', '#000').attr('stroke-width', 1.2);
}
function subText(g, x, y, str, size, anchor, color) {
  // renders digits of a chemical formula as subscripts
  const t = g.append('text').attr('x', x).attr('y', y).attr('text-anchor', anchor).attr('font-size', size).attr('fill', color);
  let sub = false;
  for (const ch of str) {
    const isDigit = /[0-9]/.test(ch);
    const ts = t.append('tspan').text(ch);
    if (isDigit && !sub) { ts.attr('dy', 4).attr('font-size', size * 0.68).attr('font-weight', 'normal'); sub = true; }
    else if (isDigit) { ts.attr('font-size', size * 0.68).attr('font-weight', 'normal'); }
    else if (sub) { ts.attr('dy', -4); sub = false; }
  }
  return t;
}
function teffText(g, x, y, val, color) {
  const t = g.append('text').attr('x', x).attr('y', y).attr('font-size', 15.5).attr('fill', color);
  t.append('tspan').text('T');
  t.append('tspan').attr('dy', 4).attr('font-size', 11).attr('font-weight', 'normal').text('eff');
  t.append('tspan').attr('dy', -4).text(` = ${val} K`);
}
function frame(x, y, w, h) {
  svg.append('rect').attr('x', x).attr('y', y).attr('width', w).attr('height', h)
    .attr('fill', 'none').attr('stroke', '#666').attr('stroke-width', 1.2);
}
function legend(x, y, w, h, rows) {
  const g = svg.append('g');
  g.append('rect').attr('x', x).attr('y', y).attr('width', w).attr('height', h).attr('rx', 3)
    .attr('fill', '#fff').attr('fill-opacity', 0.9).attr('stroke', '#d6d6d6');
  rows.forEach((r, i) => {
    const yy = y + 9.5 + i * 16.8;
    g.append('line').attr('x1', x + 4).attr('x2', x + 28).attr('y1', yy).attr('y2', yy)
      .attr('stroke', r.color).attr('stroke-width', r.width).attr('stroke-dasharray', r.dash || null);
    g.append('text').attr('x', x + 37).attr('y', yy + 4).attr('font-size', 11).attr('fill', '#111').text(r.label);
  });
}

// ================= Top-left: P–T profiles =================
const gTL = svg.append('g').attr('clip-path', clipTL);
const ptLine = d3.line().x(d => xT(d[0])).y(d => yP(d[1])).curve(d3.curveMonotoneY);
const zoneWidth = { 1: 4.5, 2: 7, 3: 11 };
[[ptEq1000, ptDiseq1000, zones1000, 1000], [ptEq700, ptDiseq700, zones700, 700], [ptEq500, ptDiseq500, zones500, 500]]
  .forEach(([eq, dis, zones, t]) => {
    gTL.append('path').datum(eq).attr('d', ptLine).attr('fill', 'none').attr('stroke', C[t])
      .attr('stroke-width', 1.5).attr('stroke-dasharray', '5,3');
    gTL.append('path').datum(dis).attr('d', ptLine).attr('fill', 'none').attr('stroke', C[t]).attr('stroke-width', 1.5);
    zones.forEach((z, i) => {
      const cid = clip(`z${t}_${i}`, xT(z[0]), 7, xT(z[1]) - xT(z[0]), 355);
      gTL.append('g').attr('clip-path', cid).append('path').datum(dis).attr('d', ptLine)
        .attr('fill', 'none').attr('stroke', C[t]).attr('stroke-width', zoneWidth[z[2]]);
    });
  });

tickAxis(d3.axisLeft(yP).tickValues(presTickExps.map(e => Math.pow(10, e))).tickSize(-16), 60, 0);
tickAxis(d3.axisLeft(yP).tickValues(logMinors(yP.domain())).tickSize(-5), 60, 0);
tickAxis(d3.axisBottom(xT).tickValues(tempTicks).tickSize(-15), 0, 362);
tickAxis(d3.axisBottom(xT).tickValues(d3.range(50, 2101, 50).filter(v => v % 250 !== 0)).tickSize(-5), 0, 362);
frame(60, 7, 395, 355);
const gLab = svg.append('g');
presTickExps.forEach(e => powLabel(gLab, 59, yP(Math.pow(10, e)) + 6, e, 'end'));
tempTicks.forEach(v => gLab.append('text').attr('x', xT(v)).attr('y', 374).attr('text-anchor', 'middle')
  .attr('font-size', 12).text(v));
gLab.append('text').attr('x', 258).attr('y', 390).attr('text-anchor', 'middle').attr('font-size', 15.5).text('Temperature [K]');
gLab.append('text').attr('transform', 'translate(24,184) rotate(-90)').attr('text-anchor', 'middle')
  .attr('font-size', 15.5).text('Pressure [Bars]');
teffLabels.forEach((v, i) => teffText(gLab, 311.7, 100.7 + i * 22.5, v, C[v]));
legend(246, 13, 203, 37, [
  { label: 'Disequilibrium Chemistry', color: '#a987bf', width: 1.3 },
  { label: 'Equilibrium Chemistry', color: '#4a1763', width: 2, dash: '5,3' }
]);

// ================= Top-right: CO mixing ratio =================
const gTR = svg.append('g').attr('clip-path', clipTR);
const coLine = d3.line().x(d => xCO(d[0])).y(d => yP(d[1]));
[[coEq1000, coDiseq1000, 1000], [coEq700, coDiseq700, 700], [coEq500, coDiseq500, 500]].forEach(([eq, dis, t]) => {
  gTR.append('path').datum(eq).attr('d', coLine).attr('fill', 'none').attr('stroke', C[t])
    .attr('stroke-width', 1.8).attr('stroke-dasharray', '6,4');
  gTR.append('path').datum(dis).attr('d', coLine).attr('fill', 'none').attr('stroke', C[t]).attr('stroke-width', 1.8);
});
tickAxis(d3.axisLeft(yP).tickValues(presTickExps.map(e => Math.pow(10, e))).tickSize(-16), 534, 0);
tickAxis(d3.axisLeft(yP).tickValues(logMinors(yP.domain())).tickSize(-5), 534, 0);
tickAxis(d3.axisBottom(xCO).tickValues(coTickExps.map(e => Math.pow(10, e))).tickSize(-15), 0, 362);
tickAxis(d3.axisBottom(xCO).tickValues(logMinors(xCO.domain())).tickSize(-5), 0, 362);
frame(534, 7, 395, 355);
presTickExps.forEach(e => powLabel(gLab, 532, yP(Math.pow(10, e)) + 6, e, 'end'));
coTickExps.forEach(e => powLabel(gLab, xCO(Math.pow(10, e)), 374, e, 'middle'));
gLab.append('text').attr('x', 731.7).attr('y', 390).attr('text-anchor', 'middle').attr('font-size', 15.5).text('CO Mixing Ratio');
teffLabels.forEach((v, i) => teffText(gLab, 557.3, 100.7 + i * 22.5, v, C[v]));
legend(540, 319, 204, 37, [
  { label: 'Disequilibrium Chemistry', color: '#440154', width: 2 },
  { label: 'Equilibrium Chemistry', color: '#440154', width: 2, dash: '5,3' }
]);

// ================= Bottom: spectra =================
const gB = svg.append('g').attr('clip-path', clipB);
bandRanges.forEach((r, i) => {
  gB.append('rect').attr('x', xW(r[0])).attr('y', 394).attr('width', xW(r[1]) - xW(r[0])).attr('height', 742)
    .attr('fill', bandFill[i]);
});
const specLine = d3.line().x(d => xW(d[0])).y(d => yF(d[1]));
[[specEq500, specDiseq500, 500], [specEq700, specDiseq700, 700], [specEq1000, specDiseq1000, 1000]].forEach(([eq, dis, t]) => {
  gB.append('path').datum(eq).attr('d', specLine).attr('fill', 'none').attr('stroke', C[t])
    .attr('stroke-width', 1).attr('stroke-dasharray', '2.5,1.5');
  gB.append('path').datum(dis).attr('d', specLine).attr('fill', 'none').attr('stroke', C[t]).attr('stroke-width', 1.1);
});
bandNames.forEach((n, i) => {
  gB.append('text').attr('x', xW(bandLabelAt[i])).attr('y', yF(bandLabelLevel) + 1)
    .attr('text-anchor', 'middle').attr('font-size', 20).attr('fill', bandText[i]).text(n);
});
molNames.forEach((n, i) => {
  const [a, b] = molRanges[i];
  const y = yF(molLevels[i]);
  gB.append('line').attr('x1', xW(a)).attr('x2', xW(b)).attr('y1', y).attr('y2', y)
    .attr('stroke', molColor[n]).attr('stroke-width', 4);
  const anchor = molAnchor[i];
  const x = anchor === 'start' ? xW(a) : anchor === 'end' ? xW(b) : (xW(a) + xW(b)) / 2;
  subText(gB, x, y - 6, n, 16, anchor, molColor[n]);
});

tickAxis(d3.axisLeft(yF).tickValues(fluxTicks).tickSize(-26), 60, 0);
tickAxis(d3.axisLeft(yF).tickValues(d3.range(-4.5, 4.6, 0.5).filter(v => Math.abs(v % 2) > 1e-9)).tickSize(-16), 60, 0);
tickAxis(d3.axisBottom(xW).tickValues(waveTickExps.map(e => Math.pow(10, e))).tickSize(-26), 0, 1136);
tickAxis(d3.axisBottom(xW).tickValues(logMinors(xW.domain()).filter(v => v > 0.65)).tickSize(-15), 0, 1136);
frame(60, 394, 869, 742);
fluxTicks.forEach(v => gLab.append('text').attr('x', 57).attr('y', yF(v) + 4.5).attr('text-anchor', 'end')
  .attr('font-size', 12).text(String(v).replace('-', '\u2212')));
waveTickExps.forEach(e => powLabel(gLab, xW(Math.pow(10, e)), 1148, e, 'middle'));
const wl = gLab.append('text').attr('x', 494).attr('y', 1163).attr('text-anchor', 'middle').attr('font-size', 15.5);
wl.append('tspan').text('Wavelength [');
wl.append('tspan').attr('font-style', 'italic').attr('font-weight', 'normal').text('\u03bc');
wl.append('tspan').text('m]');
const yl = gLab.append('text').attr('transform', 'translate(35,766) rotate(-90)').attr('text-anchor', 'middle').attr('font-size', 15);
yl.append('tspan').text('log');
yl.append('tspan').attr('dy', 4).attr('font-size', 10.5).attr('font-weight', 'normal').text('10');
yl.append('tspan').attr('dy', -4).text('(Normalized Flux) + offset');
teffLabels.forEach((v, i) => teffText(gLab, 105, 467.7 + i * 22.5, v, C[v]));
legend(719, 400, 205, 37, [
  { label: 'Disequilibrium Chemistry', color: '#6c3d80', width: 1 },
  { label: 'Equilibrium Chemistry', color: '#9a6aae', width: 1, dash: '2,1.2' }
]);
</script>
</body>
</html>
